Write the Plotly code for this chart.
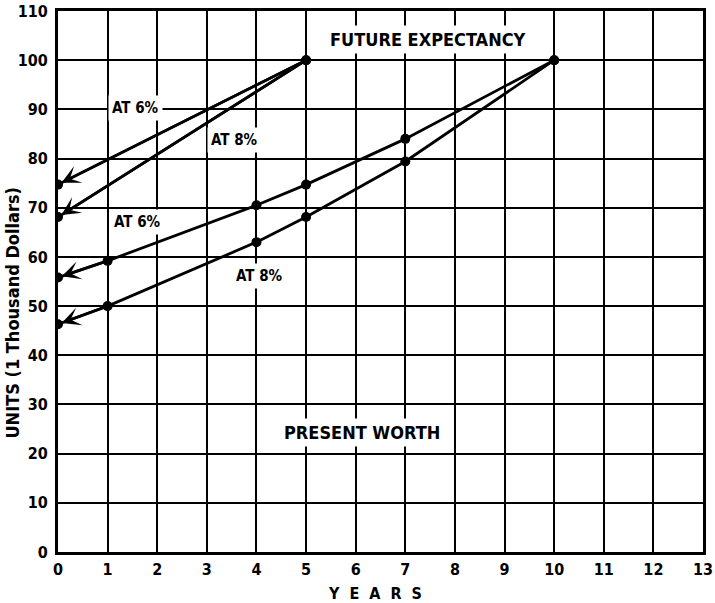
import plotly.graph_objects as go

# Years at which each value is marked
fe_years = [0, 5]
fe_6pct = [74.7, 100]          # future expectancy at 6%
fe_8pct = [68.1, 100]          # future expectancy at 8%

pw_years = [0, 1, 4, 5, 7, 10]
pw_6pct = [55.8, 59.2, 70.5, 74.7, 84.0, 100]   # present worth at 6%
pw_8pct = [46.3, 50.0, 63.0, 68.1, 79.4, 100]   # present worth at 8%

x_ticks = list(range(0, 14))
y_ticks = list(range(0, 111, 10))

FONT = "DejaVu Sans Condensed, DejaVu Sans, Liberation Sans, sans-serif"
INK = "black"

fig = go.Figure()

series = [
    (fe_years, fe_6pct),
    (fe_years, fe_8pct),
    (pw_years, pw_6pct),
    (pw_years, pw_8pct),
]
for xs, ys in series:
    fig.add_trace(go.Scatter(
        x=xs, y=ys, mode="lines+markers",
        line=dict(color=INK, width=2.8),
        marker=dict(color=INK, size=10),
        showlegend=False, hoverinfo="skip",
    ))

annotations = []
# arrowheads pointing into the year-0 point of each curve
for xs, ys in series:
    annotations.append(dict(
        x=xs[0], y=ys[0], ax=xs[1], ay=ys[1],
        xref="x", yref="y", axref="x", ayref="y",
        text="", showarrow=True, arrowhead=3, arrowsize=1.2,
        arrowwidth=2.6, arrowcolor=INK, standoff=4,
    ))

labels = [
    ("AT 6%", 1.56, 90.2, 15),
    ("AT 8%", 3.56, 83.7, 15),
    ("AT 6%", 1.60, 67.0, 15),
    ("AT 8%", 4.07, 56.2, 15),
    ("FUTURE EXPECTANCY", 7.45, 104.3, 18),
    ("PRESENT WORTH", 6.12, 24.4, 18),
]
for text, x, y, size in labels:
    annotations.append(dict(
        x=x, y=y, xref="x", yref="y", text=text, showarrow=False,
        font=dict(family=FONT, size=size, color=INK, weight="bold"),
        bgcolor="white", borderpad=3,
    ))

annotations.append(dict(
    x=-0.071, y=0.443, xref="paper", yref="paper",
    xanchor="center", yanchor="middle",
    text="UNITS (1 Thousand Dollars)", textangle=-90, showarrow=False,
    font=dict(family=FONT, size=18, color=INK, weight="bold"),
))
annotations.append(dict(
    x=0.492, y=-0.076, xref="paper", yref="paper",
    xanchor="center", yanchor="middle",
    text="Y  E  A  R  S", showarrow=False,
    font=dict(family=FONT, size=16, color=INK, weight="bold"),
))

axis_common = dict(
    showgrid=True, gridcolor=INK, gridwidth=2,
    showline=True, linecolor=INK, linewidth=3, mirror=True,
    zeroline=False, ticks="", automargin=False,
    tickfont=dict(family=FONT, size=16, color=INK, weight="bold"),
)

fig.update_layout(
    width=715, height=603,
    margin=dict(l=58, r=12, t=11, b=51),
    paper_bgcolor="white", plot_bgcolor="white",
    xaxis=dict(range=[0, 13], tickvals=x_ticks, ticklabelstandoff=1, **axis_common),
    yaxis=dict(range=[0, 110], tickvals=y_ticks, ticklabelstandoff=4, **axis_common),
    annotations=annotations,
)

fig.write_html("out.html")
